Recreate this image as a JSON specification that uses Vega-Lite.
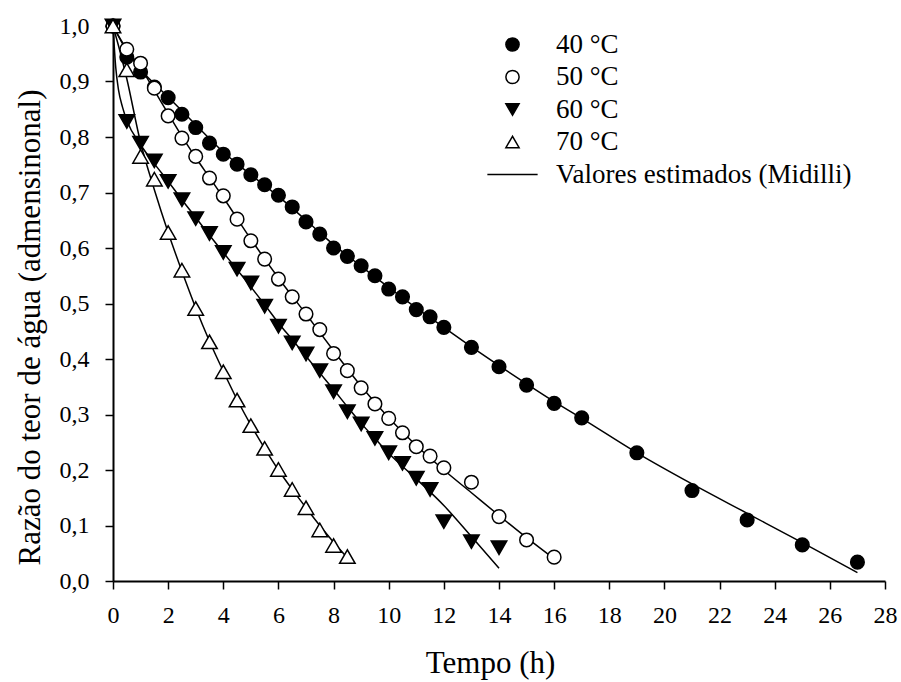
{
  "$schema": "https://vega.github.io/schema/vega-lite/v6.json",
  "width": 772,
  "height": 555,
  "autosize": "none",
  "padding": {"left": 113, "top": 26, "right": 16, "bottom": 101},
  "background": "white",
  "config": {
    "view": {"stroke": null},
    "font": "Liberation Serif",
    "axis": {
      "domainColor": "black", "domainWidth": 2, "tickColor": "black", "tickWidth": 1.5, "tickSize": 8,
      "labelFont": "Liberation Serif", "labelFontSize": 24, "labelColor": "black",
      "titleFont": "Liberation Serif", "titleFontSize": 31, "titleFontWeight": "normal", "titleColor": "black",
      "grid": false
    }
  },
  "datasets": {
    "obs": [
      {"t":0,"mr":1.0,"serie":"40 °C"},{"t":0.5,"mr":0.944,"serie":"40 °C"},{"t":1,"mr":0.917,"serie":"40 °C"},{"t":1.5,"mr":0.89,"serie":"40 °C"},{"t":2,"mr":0.871,"serie":"40 °C"},{"t":2.5,"mr":0.841,"serie":"40 °C"},{"t":3,"mr":0.817,"serie":"40 °C"},{"t":3.5,"mr":0.789,"serie":"40 °C"},{"t":4,"mr":0.769,"serie":"40 °C"},{"t":4.5,"mr":0.751,"serie":"40 °C"},{"t":5,"mr":0.732,"serie":"40 °C"},{"t":5.5,"mr":0.714,"serie":"40 °C"},{"t":6,"mr":0.695,"serie":"40 °C"},{"t":6.5,"mr":0.674,"serie":"40 °C"},{"t":7,"mr":0.647,"serie":"40 °C"},{"t":7.5,"mr":0.625,"serie":"40 °C"},{"t":8,"mr":0.6,"serie":"40 °C"},{"t":8.5,"mr":0.585,"serie":"40 °C"},{"t":9,"mr":0.568,"serie":"40 °C"},{"t":9.5,"mr":0.55,"serie":"40 °C"},{"t":10,"mr":0.526,"serie":"40 °C"},{"t":10.5,"mr":0.512,"serie":"40 °C"},{"t":11,"mr":0.489,"serie":"40 °C"},{"t":11.5,"mr":0.476,"serie":"40 °C"},{"t":12,"mr":0.457,"serie":"40 °C"},{"t":13,"mr":0.421,"serie":"40 °C"},{"t":14,"mr":0.386,"serie":"40 °C"},{"t":15,"mr":0.353,"serie":"40 °C"},{"t":16,"mr":0.32,"serie":"40 °C"},{"t":17,"mr":0.294,"serie":"40 °C"},{"t":19,"mr":0.231,"serie":"40 °C"},{"t":21,"mr":0.163,"serie":"40 °C"},{"t":23,"mr":0.11,"serie":"40 °C"},{"t":25,"mr":0.065,"serie":"40 °C"},{"t":27,"mr":0.034,"serie":"40 °C"},
      {"t":0,"mr":1.0,"serie":"50 °C"},{"t":0.5,"mr":0.958,"serie":"50 °C"},{"t":1,"mr":0.933,"serie":"50 °C"},{"t":1.5,"mr":0.888,"serie":"50 °C"},{"t":2,"mr":0.838,"serie":"50 °C"},{"t":2.5,"mr":0.798,"serie":"50 °C"},{"t":3,"mr":0.765,"serie":"50 °C"},{"t":3.5,"mr":0.726,"serie":"50 °C"},{"t":4,"mr":0.694,"serie":"50 °C"},{"t":4.5,"mr":0.652,"serie":"50 °C"},{"t":5,"mr":0.613,"serie":"50 °C"},{"t":5.5,"mr":0.58,"serie":"50 °C"},{"t":6,"mr":0.544,"serie":"50 °C"},{"t":6.5,"mr":0.512,"serie":"50 °C"},{"t":7,"mr":0.481,"serie":"50 °C"},{"t":7.5,"mr":0.453,"serie":"50 °C"},{"t":8,"mr":0.41,"serie":"50 °C"},{"t":8.5,"mr":0.379,"serie":"50 °C"},{"t":9,"mr":0.348,"serie":"50 °C"},{"t":9.5,"mr":0.319,"serie":"50 °C"},{"t":10,"mr":0.293,"serie":"50 °C"},{"t":10.5,"mr":0.267,"serie":"50 °C"},{"t":11,"mr":0.242,"serie":"50 °C"},{"t":11.5,"mr":0.225,"serie":"50 °C"},{"t":12,"mr":0.204,"serie":"50 °C"},{"t":13,"mr":0.178,"serie":"50 °C"},{"t":14,"mr":0.116,"serie":"50 °C"},{"t":15,"mr":0.074,"serie":"50 °C"},{"t":16,"mr":0.043,"serie":"50 °C"},
      {"t":0,"mr":1.0,"serie":"60 °C"},{"t":0.5,"mr":0.828,"serie":"60 °C"},{"t":1,"mr":0.789,"serie":"60 °C"},{"t":1.5,"mr":0.757,"serie":"60 °C"},{"t":2,"mr":0.72,"serie":"60 °C"},{"t":2.5,"mr":0.687,"serie":"60 °C"},{"t":3,"mr":0.653,"serie":"60 °C"},{"t":3.5,"mr":0.626,"serie":"60 °C"},{"t":4,"mr":0.592,"serie":"60 °C"},{"t":4.5,"mr":0.562,"serie":"60 °C"},{"t":5,"mr":0.537,"serie":"60 °C"},{"t":5.5,"mr":0.495,"serie":"60 °C"},{"t":6,"mr":0.459,"serie":"60 °C"},{"t":6.5,"mr":0.429,"serie":"60 °C"},{"t":7,"mr":0.409,"serie":"60 °C"},{"t":7.5,"mr":0.379,"serie":"60 °C"},{"t":8,"mr":0.341,"serie":"60 °C"},{"t":8.5,"mr":0.305,"serie":"60 °C"},{"t":9,"mr":0.283,"serie":"60 °C"},{"t":9.5,"mr":0.257,"serie":"60 °C"},{"t":10,"mr":0.231,"serie":"60 °C"},{"t":10.5,"mr":0.212,"serie":"60 °C"},{"t":11,"mr":0.185,"serie":"60 °C"},{"t":11.5,"mr":0.165,"serie":"60 °C"},{"t":12,"mr":0.107,"serie":"60 °C"},{"t":13,"mr":0.071,"serie":"60 °C"},{"t":14,"mr":0.06,"serie":"60 °C"},
      {"t":0,"mr":1.0,"serie":"70 °C"},{"t":0.5,"mr":0.921,"serie":"70 °C"},{"t":1,"mr":0.765,"serie":"70 °C"},{"t":1.5,"mr":0.724,"serie":"70 °C"},{"t":2,"mr":0.628,"serie":"70 °C"},{"t":2.5,"mr":0.56,"serie":"70 °C"},{"t":3,"mr":0.491,"serie":"70 °C"},{"t":3.5,"mr":0.431,"serie":"70 °C"},{"t":4,"mr":0.377,"serie":"70 °C"},{"t":4.5,"mr":0.326,"serie":"70 °C"},{"t":5,"mr":0.28,"serie":"70 °C"},{"t":5.5,"mr":0.239,"serie":"70 °C"},{"t":6,"mr":0.201,"serie":"70 °C"},{"t":6.5,"mr":0.165,"serie":"70 °C"},{"t":7,"mr":0.132,"serie":"70 °C"},{"t":7.5,"mr":0.092,"serie":"70 °C"},{"t":8,"mr":0.064,"serie":"70 °C"},{"t":8.5,"mr":0.044,"serie":"70 °C"}
    ],
    "fit": [
      {"t":0,"mr":1.0,"curva":"40"},{"t":0.5,"mr":0.955,"curva":"40"},{"t":1,"mr":0.922,"curva":"40"},{"t":2,"mr":0.872,"curva":"40"},{"t":3,"mr":0.822,"curva":"40"},{"t":4,"mr":0.773,"curva":"40"},{"t":5,"mr":0.732,"curva":"40"},{"t":6,"mr":0.693,"curva":"40"},{"t":7,"mr":0.65,"curva":"40"},{"t":8,"mr":0.606,"curva":"40"},{"t":9,"mr":0.567,"curva":"40"},{"t":10,"mr":0.529,"curva":"40"},{"t":11,"mr":0.492,"curva":"40"},{"t":12,"mr":0.457,"curva":"40"},{"t":13,"mr":0.422,"curva":"40"},{"t":14,"mr":0.388,"curva":"40"},{"t":15,"mr":0.355,"curva":"40"},{"t":16,"mr":0.323,"curva":"40"},{"t":17,"mr":0.293,"curva":"40"},{"t":19,"mr":0.231,"curva":"40"},{"t":21,"mr":0.175,"curva":"40"},{"t":23,"mr":0.122,"curva":"40"},{"t":25,"mr":0.069,"curva":"40"},{"t":27,"mr":0.015,"curva":"40"},
      {"t":0,"mr":1.0,"curva":"50"},{"t":0.5,"mr":0.958,"curva":"50"},{"t":1,"mr":0.925,"curva":"50"},{"t":1.5,"mr":0.884,"curva":"50"},{"t":2,"mr":0.842,"curva":"50"},{"t":2.5,"mr":0.801,"curva":"50"},{"t":3,"mr":0.763,"curva":"50"},{"t":3.5,"mr":0.727,"curva":"50"},{"t":4,"mr":0.691,"curva":"50"},{"t":5,"mr":0.616,"curva":"50"},{"t":6,"mr":0.546,"curva":"50"},{"t":7,"mr":0.481,"curva":"50"},{"t":8,"mr":0.415,"curva":"50"},{"t":9,"mr":0.351,"curva":"50"},{"t":10,"mr":0.294,"curva":"50"},{"t":11,"mr":0.244,"curva":"50"},{"t":12,"mr":0.2,"curva":"50"},{"t":13,"mr":0.159,"curva":"50"},{"t":14,"mr":0.118,"curva":"50"},{"t":15,"mr":0.078,"curva":"50"},{"t":16,"mr":0.04,"curva":"50"},
      {"t":0,"mr":1.0,"curva":"60"},{"t":0.1,"mr":0.925,"curva":"60"},{"t":0.2,"mr":0.885,"curva":"60"},{"t":0.35,"mr":0.853,"curva":"60"},{"t":0.5,"mr":0.83,"curva":"60"},{"t":1,"mr":0.786,"curva":"60"},{"t":1.5,"mr":0.752,"curva":"60"},{"t":2,"mr":0.72,"curva":"60"},{"t":2.5,"mr":0.687,"curva":"60"},{"t":3,"mr":0.655,"curva":"60"},{"t":3.5,"mr":0.623,"curva":"60"},{"t":4,"mr":0.592,"curva":"60"},{"t":4.5,"mr":0.561,"curva":"60"},{"t":5,"mr":0.53,"curva":"60"},{"t":5.5,"mr":0.498,"curva":"60"},{"t":6,"mr":0.465,"curva":"60"},{"t":6.5,"mr":0.435,"curva":"60"},{"t":7,"mr":0.405,"curva":"60"},{"t":7.5,"mr":0.375,"curva":"60"},{"t":8,"mr":0.345,"curva":"60"},{"t":8.5,"mr":0.314,"curva":"60"},{"t":9,"mr":0.284,"curva":"60"},{"t":9.5,"mr":0.257,"curva":"60"},{"t":10,"mr":0.23,"curva":"60"},{"t":11,"mr":0.184,"curva":"60"},{"t":12,"mr":0.136,"curva":"60"},{"t":13,"mr":0.08,"curva":"60"},{"t":14,"mr":0.023,"curva":"60"},
      {"t":0,"mr":1.0,"curva":"70"},{"t":0.25,"mr":0.955,"curva":"70"},{"t":0.5,"mr":0.905,"curva":"70"},{"t":1,"mr":0.79,"curva":"70"},{"t":1.5,"mr":0.705,"curva":"70"},{"t":2,"mr":0.628,"curva":"70"},{"t":2.5,"mr":0.558,"curva":"70"},{"t":3,"mr":0.492,"curva":"70"},{"t":3.5,"mr":0.432,"curva":"70"},{"t":4,"mr":0.378,"curva":"70"},{"t":4.5,"mr":0.327,"curva":"70"},{"t":5,"mr":0.281,"curva":"70"},{"t":5.5,"mr":0.239,"curva":"70"},{"t":6,"mr":0.2,"curva":"70"},{"t":6.5,"mr":0.165,"curva":"70"},{"t":7,"mr":0.132,"curva":"70"},{"t":7.5,"mr":0.1,"curva":"70"},{"t":8,"mr":0.07,"curva":"70"},{"t":8.5,"mr":0.042,"curva":"70"}
    ]
  },
  "encoding": {
    "x": {
      "field": "t", "type": "quantitative",
      "scale": {"domain": [0, 28], "nice": false, "zero": false},
      "axis": {"values": [0,2,4,6,8,10,12,14,16,18,20,22,24,26,28], "title": "Tempo (h)", "labelPadding": 14, "titleX": 377, "titleY": 82, "titleBaseline": "middle", "labelFlush": false}
    },
    "y": {
      "field": "mr", "type": "quantitative",
      "scale": {"domain": [0, 1], "nice": false},
      "axis": {"values": [0,0.1,0.2,0.3,0.4,0.5,0.6,0.7,0.8,0.9,1.0], "title": "Razão do teor de água (admensinonal)", "labelExpr": "replace(format(datum.value, '.1f'), '.', ',')", "labelPadding": 16, "titleX": -83, "titleY": 301, "titleBaseline": "middle", "labelFlush": false}
    }
  },
  "layer": [
    {
      "data": {"name": "fit"},
      "mark": {"type": "line", "color": "black", "strokeWidth": 1.5, "interpolate": "monotone"},
      "encoding": {"detail": {"field": "curva"}}
    },
    {
      "data": {"name": "obs"},
      "mark": {"type": "point", "filled": true, "strokeWidth": 1.5, "opacity": 1, "strokeOpacity": 1, "fillOpacity": 1},
      "encoding": {
        "shape": {
          "field": "serie", "type": "nominal",
          "scale": {"domain": ["40 °C","50 °C","60 °C","70 °C","Valores estimados (Midilli)"], "range": ["circle","circle","triangle-down","triangle-up","M-3.8,0L3.8,0"]},
          "legend": {
            "title": null, "orient": "none", "legendX": 386, "legendY": 5,
            "labelFont": "Liberation Serif", "labelFontSize": 27, "labelColor": "black", "labelOffset": 30, "labelLimit": 400,
            "symbolSize": 175, "symbolStrokeWidth": 1.5, "rowPadding": 4.5
          }
        },
        "fill": {
          "field": "serie", "type": "nominal",
          "scale": {"domain": ["40 °C","50 °C","60 °C","70 °C","Valores estimados (Midilli)"], "range": ["black","white","black","white","transparent"]}
        },
        "stroke": {
          "field": "serie", "type": "nominal",
          "scale": {"domain": ["40 °C","50 °C","60 °C","70 °C","Valores estimados (Midilli)"], "range": ["black","black","black","black","black"]}
        },
        "size": {"condition": {"test": "datum.serie === '60 °C' || datum.serie === '70 °C'", "value": 240}, "value": 185}
      }
    }
  ]
}
